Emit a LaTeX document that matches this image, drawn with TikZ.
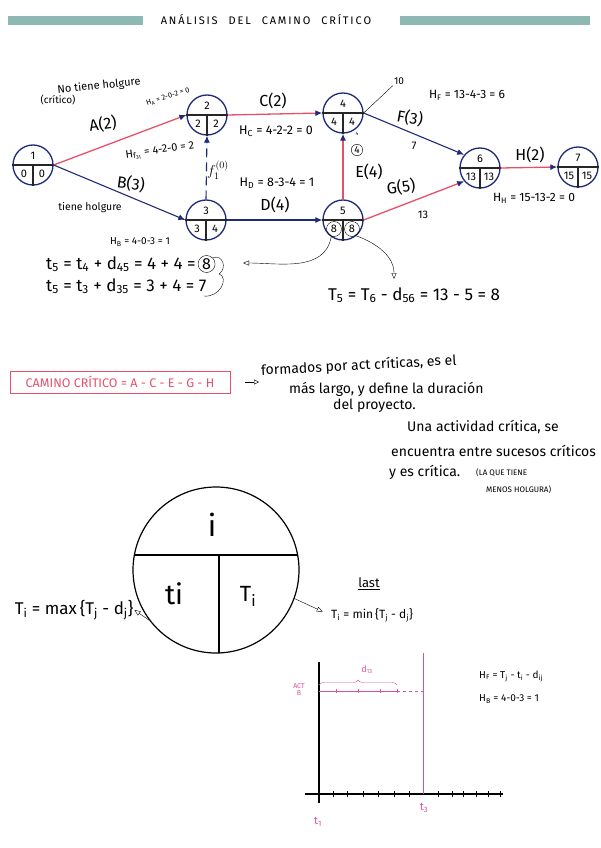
\documentclass[tikz,border=0pt]{standalone}
\usepackage{fontspec}
\setmainfont{Fira Sans}
\usetikzlibrary{arrows.meta,positioning,calc,decorations.pathreplacing}
\definecolor{navy}{HTML}{1F2A78}
\definecolor{critpink}{HTML}{E8506A}
\definecolor{barteal}{HTML}{8DB8B3}
\definecolor{chartpink}{HTML}{D0559E}
\newcommand{\ix}[1]{\textsubscript{#1}}
\newcommand{\fs}[1]{\fontsize{#1}{#1}\selectfont}
\newcommand{\evento}[6]{%
  \node[evt] (#1) at (#2) {};
  \draw[sep] (#1.west) -- (#1.east);
  \draw[sep] (#1.center) -- (#1.south);
  \node[evtnum] at ($(#1.center)+(0,-9)$) {#3};
  \node[evtnum] at ($(#1.center)+(-9,9)$) {#4};
  \node[evtnum] at ($(#1.center)+(9,9)$) {#5};
  #6}

\begin{document}
\begin{tikzpicture}[x=1pt,y=-1pt,
 evt/.style={circle,draw=navy,line width=1.3pt,minimum size=40pt,inner sep=0pt},
 sep/.style={line width=1.1pt,black!85},
 evtnum/.style={font=\fs{11},inner sep=0pt},
 crit/.style={draw=critpink,line width=1.3pt,-{Latex[color=navy,length=7pt,width=6pt]}},
 norm/.style={draw=navy,line width=1.1pt,-{Latex[length=7pt,width=6pt]}},
 act/.style={font=\fs{16},inner sep=1pt},
 note/.style={font=\fs{10},inner sep=1pt},
 hand/.style={font=\fs{14},inner sep=1pt,anchor=west},
 formula/.style={font=\fs{17},inner sep=1pt,anchor=west},
 ptr/.style={thin,black,-{Triangle[open,length=6pt,width=5pt]}}]
\useasboundingbox (0,0) rectangle (600,848);

% titulo
\fill[barteal] (8,16) rectangle (143,25);
\fill[barteal] (400,16) rectangle (590,25);
\node[font=\fs{11}] (titulo) at (266,20) {A\,N\,Á\,L\,I\,S\,I\,S\quad D\,E\,L\quad C\,A\,M\,I\,N\,O\quad C\,R\,Í\,T\,I\,C\,O};

% red de actividades
\evento{e1}{33,165}{1}{0}{0}{}
\evento{e2}{207,115}{2}{2}{2}{}
\evento{e3}{206,220}{3}{3}{4}{}
\evento{e4}{343,113}{4}{4}{4}{}
\evento{e5}{343,220}{5}{8}{8}{%
  \draw[thin] ($(e5.center)+(-9,9)$) circle (7.5pt);
  \draw[thin] ($(e5.center)+(9,9)$) circle (7.5pt);}
\evento{e6}{480,168}{6}{13}{13}{}
\evento{e7}{578,167}{7}{15}{15}{}

\draw[crit] (e1.east) -- (e2.west);
\draw[crit] (e2.east) -- (e4.west);
\draw[norm] (e1.east) -- (e3.west);
\draw[norm] (e3.east) -- (e5.west);
\draw[norm,dashed,dash pattern=on 9pt off 5pt] (e3.north) -- (e2.south);
\draw[crit] (e5.north) -- (e4.south);
\draw[norm] (e4.east) -- (e6.140);
\draw[crit] (e5.east) -- (e6.220);
\draw[crit] (e6.east) -- (e7.west);

\node[act,rotate=8] (lA) at (103,124) {A(2)};
\node[act] (lC) at (273,101) {C(2)};
\node[act,rotate=-8] (lB) at (131,184) {B(3)};
\node[act] (lD) at (275,205) {D(4)};
\node[act] (lE) at (369,172) {E(4)};
\node[act,rotate=-10] (lF) at (410,118) {F(3)};
\node[act,rotate=8] (lG) at (401,187) {G(5)};
\node[act] (lH) at (530,155) {H(2)};
\node[font=\fs{14}] (lf) at (218,170) {$f^{(0)}_1$};
\node[note,font=\fs{11}] (n7) at (414,146) {7};
\node[note,font=\fs{11}] (n13) at (423,215) {13};
\node[circle,draw,thin,inner sep=1pt,font=\fs{10}] (c4) at (357,150) {4};
\node[note,font=\fs{5}] (t4) at (357,134) {4};
\node[note,font=\fs{10}] (n10) at (399,81) {10};
\draw[thin] (n10.south west) -- (e4.east);

% holguras
\node[note,font=\fs{11},rotate=6] (ntiene) at (99,86) {No tiene holgure};
\node[note] (ncrit) at (58,100) {(crítico)};
\node[note,font=\fs{7.5},rotate=18] (hA) at (168,97) {H\ix{A} = 2-0-2 = 0};
\node[note,font=\fs{11},rotate=8] (hF1) at (160,151) {H\ix{f\ix{31}} = 4-2-0 = 2};
\node[note,font=\fs{12.5}] (hC) at (276,131) {H\ix{C} = 4-2-2 = 0};
\node[note,font=\fs{12.5}] (hD) at (277,183) {H\ix{D} = 8-3-4 = 1};
\node[note,font=\fs{12}] (hF) at (467,95) {H\ix{F} = 13-4-3 = 6};
\node[note,font=\fs{12}] (hH) at (534,198) {H\ix{H} = 15-13-2 = 0};
\node[note,font=\fs{10.5}] (ntiene2) at (90,208) {tiene holgure};
\node[note] (hB) at (140,242) {H\ix{B} = 4-0-3 = 1};

% calculo de t5 y T5
\node[formula] (t5a) at (45,264) {t\ix{5} = t\ix{4} + d\ix{45} = 4 + 4 =};
\node[circle,draw,thin,inner sep=1pt,font=\fs{16},right=1pt of t5a] (ocho) {8};
\node[formula] (t5b) at (45,286) {t\ix{5} = t\ix{3} + d\ix{35} = 3 + 4 = 7};
\draw[thin] (ocho.north east) .. controls ++(10,-4) and ++(8,-6) .. ($(ocho.east)+(4,10)$) .. controls ++(10,4) and ++(16,2) .. ($(t5b.east)+(-4,10)$);
\coordinate (fl5) at (243,263);
\draw[ptr] (e5.235) to[out=-100,in=0] (fl5);
\coordinate (fl6) at (394,279);
\draw[ptr] (e5.-50) to[out=-20,in=90] (fl6);
\node[formula,anchor=center] (T5) at (414,295) {T\ix{5} = T\ix{6} - d\ix{56} = 13 - 5 = 8};

% camino critico
\node[draw=critpink,line width=1pt,minimum width=220pt,minimum height=22pt,text=critpink,font=\fs{12.5}] (cc) at (120,382) {CAMINO CRÍTICO = A - C - E - G - H};
\coordinate (ar1) at (245,382);
\coordinate (ar2) at (259,382);
\draw[thin,-{Triangle[open,length=5pt,width=5pt]}] (ar1) -- (ar2);
\node[hand,rotate=3] (d1) at (260,371) {formados por act críticas, es el};
\node[hand] (d2) at (288,389) {más largo, y define la duración};
\node[hand] (d3) at (332,406) {del proyecto.};
\node[hand] (d4) at (406,427) {Una actividad crítica, se};
\node[hand] (d5) at (390,451) {encuentra entre sucesos críticos};
\node[hand] (d6) at (388,472) {y es crítica.};
\node[note,anchor=west,font=\fs{8}] (d7) at (475,473) {(LA QUE TIENE};
\node[note,anchor=west,font=\fs{8}] (d8) at (485,490) {MENOS HOLGURA)};

% suceso generico
\node[circle,draw,line width=1.2pt,minimum size=166pt,inner sep=0pt] (big) at (216,570) {};
\draw[line width=1.2pt] ($(big.center)+(-81.6,-15)$) -- ($(big.center)+(81.6,-15)$);
\draw[line width=1.2pt] ($(big.center)+(3,-15)$) -- ($(big.center)+(3,82.9)$);
\node[font=\fs{30}] (gi) at (212,525) {i};
\node[font=\fs{28}] (gti) at (174,594) {ti};
\node[font=\fs{22}] (gTi) at (248,596) {T\ix{i}};
\node[formula,anchor=center] (tmax) at (74,610) {T\ix{i} = max\,\{T\ix{j} - d\ix{j}\}};
\draw[ptr] (big.217) -- (tmax.east);
\node[note,font=\fs{13}] (last) at (369,584) {\underline{last}};
\node[note,anchor=west,font=\fs{12}] (tmin) at (330,615) {T\ix{i} = min\,\{T\ix{j} - d\ix{j}\}};
\draw[ptr,shorten >=8pt] (big.-20) -- (tmin.west);

% diagrama temporal
\draw[line width=1.3pt] (319,662) -- (319,803);
\draw[line width=1.3pt] (305,794) -- (503,794);
\foreach \tx in {333,347,363,378,394,409,438,452,463,476,488,500}
  \draw[thick] (\tx,791) -- (\tx,797);
\draw[chartpink,thin] (423,653) -- (423,794);
\draw[chartpink,thin] (319,691) -- (397,691);
\draw[chartpink,thin,dashed] (397,691) -- (423,691);
\foreach \tx in {336,358,380,397}
  \draw[chartpink,thin] (\tx,689) -- (\tx,693);
\draw[chartpink,thin,decorate,decoration={brace,amplitude=5pt}] (319,685) -- (397,685);
\node[text=chartpink,font=\fs{9}] (d13) at (367,670) {d\ix{13}};
\node[text=chartpink,font=\fs{7},align=center] (actB) at (299,690) {ACT\\B};
\node[text=chartpink,font=\fs{11}] (lt1) at (318,822) {t\ix{1}};
\node[text=chartpink,font=\fs{11}] (lt3) at (424,808) {t\ix{3}};
\node[note,anchor=west,font=\fs{10}] (hf2) at (478,676) {H\ix{F} = T\ix{j} - t\ix{i} - d\ix{ij}};
\node[note,anchor=west,font=\fs{10}] (hb2) at (478,699) {H\ix{B} = 4-0-3 = 1};
\end{tikzpicture}
\end{document}
